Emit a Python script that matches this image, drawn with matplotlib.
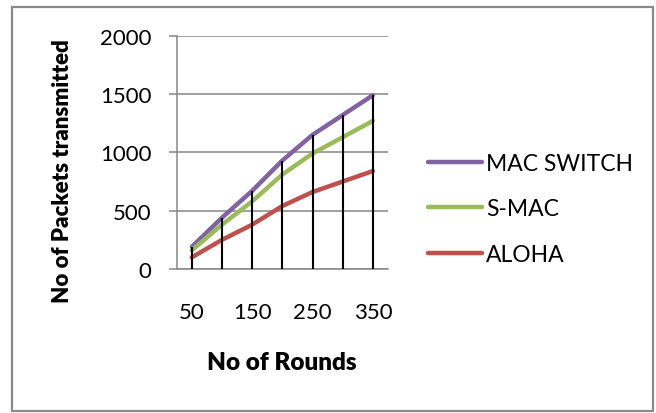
import numpy as np
import matplotlib
matplotlib.use("Agg")
import matplotlib.pyplot as plt
from matplotlib.patches import Rectangle

# Packets transmitted per round count
rounds = [50, 100, 150, 200, 250, 300, 350]
mac_switch = [190, 440, 670, 930, 1150, 1320, 1490]
s_mac = [160, 380, 580, 810, 990, 1130, 1270]
aloha = [100, 250, 380, 540, 660, 750, 840]

plt.rcParams['font.family'] = ['Lato', 'DejaVu Sans']

W, H = 656, 414
fig = plt.figure(figsize=(W / 100, H / 100), dpi=100)

# outer chart border
fig.patches.append(Rectangle((12 / W, 1 - 412 / H), (653 - 12) / W, (412 - 7.5) / H,
                             transform=fig.transFigure, fill=False,
                             edgecolor='#8a8a8a', lw=1.6))

ax = fig.add_axes([176.7 / W, 1 - 270 / H, (388 - 176.7) / W, (270 - 36.7) / H])
x = np.arange(len(rounds))

for series, col, lab in [(mac_switch, '#8064A2', 'MAC SWITCH'),
                         (s_mac, '#9BBB59', 'S-MAC'),
                         (aloha, '#C0504D', 'ALOHA')]:
    ax.plot(x, series, color=col, lw=3.2, label=lab, solid_capstyle='round', zorder=3)

# drop lines down to the axis
tops = np.max([mac_switch, s_mac, aloha], axis=0)
ax.vlines(x, 0, tops, color='black', lw=1.5, zorder=4)

ax.set_xlim(-0.5, len(rounds) - 0.5)
ax.set_ylim(0, 2000)
ax.set_yticks(range(0, 2001, 500))
ax.set_xticks(x[::2])
ax.set_xticklabels([str(r) for r in rounds[::2]])
ax.grid(axis='y', color='#868686', lw=1.1)
ax.set_axisbelow(True)

for s in ['top', 'right']:
    ax.spines[s].set_visible(False)
for s in ['left', 'bottom']:
    ax.spines[s].set_color('#868686')
    ax.spines[s].set_linewidth(1.1)

ax.tick_params(axis='y', length=6, width=1.1, color='#868686', pad=12,
               labelsize=16, labelcolor='black')
ax.tick_params(axis='x', length=0, pad=24, labelsize=16, labelcolor='black')

fig.text(281.7 / W, 1 - 363 / H, 'No of Rounds', ha='center', va='center',
         fontsize=17.5, fontweight='heavy')
fig.text(63 / W, 1 - 171 / H, 'No of Packets transmitted', ha='center', va='center',
         rotation=90, fontsize=16, fontweight='heavy')

fig.legend(loc='center left', bbox_to_anchor=(428 / W, 1 - 210 / H),
           frameon=False, fontsize=16.5, handlelength=2.35, handletextpad=0.2,
           labelspacing=1.05, borderpad=0, borderaxespad=0)

fig.savefig('out.png', dpi=100)
